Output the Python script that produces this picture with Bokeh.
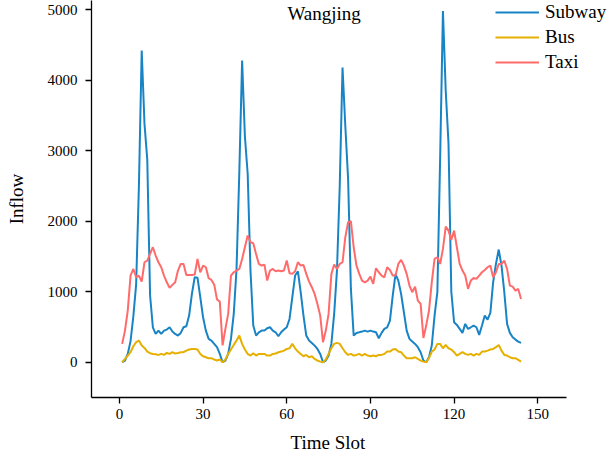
from bokeh.plotting import figure
from bokeh.models import Range1d, Legend, LegendItem, Label, FixedTicker, Title
from bokeh.embed import file_html
from bokeh.resources import INLINE

time_slot = list(range(1, 145))

subway = [0, 24, 118, 300, 650, 1100, 2500, 4420, 3380, 2870, 950, 496, 402, 449, 402, 449, 463, 496,
          435, 402, 378, 416, 496, 510, 662, 969, 1205, 1200, 922, 638, 449, 331, 307, 260, 213, 118,
          0, 24, 118, 331, 685, 1323, 2700, 4280, 3200, 2670, 1300, 520, 378, 425, 449, 449, 482, 496,
          449, 425, 369, 425, 463, 496, 614, 922, 1229, 1290, 993, 662, 378, 307, 274, 236, 189, 118,
          0, 24, 95, 260, 685, 1300, 2500, 4180, 3350, 2600, 1040, 378, 416, 425, 435, 449, 435, 449,
          435, 425, 340, 416, 473, 496, 591, 945, 1250, 1158, 969, 709, 449, 331, 293, 260, 213, 142,
          24, 0, 71, 236, 662, 993, 2900, 4980, 3850, 3100, 1000, 567, 529, 473, 416, 544, 473, 496,
          520, 496, 388, 520, 662, 605, 700, 1134, 1394, 1598, 1371, 993, 544, 416, 355, 321, 293, 274]

bus = [0, 47, 95, 142, 227, 284, 307, 236, 203, 151, 128, 118, 113, 104, 118, 104, 132, 118,
       142, 123, 132, 142, 142, 165, 180, 189, 189, 180, 118, 85, 71, 57, 57, 38, 24, 38,
       0, 38, 118, 180, 246, 307, 378, 260, 180, 118, 95, 128, 95, 118, 118, 118, 95, 95,
       118, 123, 142, 151, 165, 189, 198, 260, 198, 151, 118, 85, 104, 71, 85, 47, 24, 9,
       0, 38, 118, 198, 260, 274, 260, 198, 142, 104, 118, 95, 104, 118, 95, 118, 95, 85,
       95, 85, 104, 104, 118, 151, 151, 180, 189, 151, 142, 95, 57, 57, 57, 71, 47, 24,
       9, 0, 57, 151, 180, 260, 260, 198, 246, 198, 180, 142, 95, 118, 142, 118, 104, 118,
       95, 118, 104, 151, 151, 165, 180, 189, 213, 246, 165, 104, 95, 71, 57, 57, 33, 9]

taxi = [260, 449, 733, 1229, 1323, 1205, 1229, 1144, 1418, 1442, 1536, 1631, 1513, 1418, 1347, 1229, 1134, 1054,
        1097, 1134, 1300, 1394, 1394, 1238, 1238, 1238, 1243, 1465, 1276, 1371, 1347, 1191, 1168, 1100, 890, 860,
        240, 473, 685, 1229, 1276, 1300, 1323, 1465, 1631, 1796, 1702, 1688, 1536, 1394, 1371, 1385, 1158, 1300,
        1323, 1290, 1300, 1290, 1300, 1442, 1262, 1253, 1290, 1418, 1371, 1380, 1253, 1144, 1064, 969, 827, 662,
        284, 449, 685, 1250, 1385, 1323, 1394, 1418, 1773, 1985, 2000, 1631, 1371, 1253, 1158, 1134, 1158, 1215,
        1111, 1333, 1276, 1229, 1205, 1347, 1309, 1229, 1229, 1394, 1451, 1371, 1253, 1087, 993, 1073, 875, 827,
        345, 520, 733, 1134, 1465, 1489, 1394, 1607, 1924, 1867, 1735, 1867, 1631, 1394, 1300, 1229, 1040, 1158,
        1196, 1182, 1229, 1276, 1309, 1347, 1371, 1205, 1276, 1394, 1394, 1442, 1323, 1087, 1073, 1016, 1040, 898]

x_ticks = [0, 30, 60, 90, 120, 150]
y_ticks = [0, 1000, 2000, 3000, 4000, 5000]

series_names = ["Subway", "Bus", "Taxi"]
series_colors = ["#1984c5", "#e6b000", "#ff6b6b"]

FONT = "Liberation Serif"

p = figure(width=607, height=464, output_backend="svg", toolbar_location=None,
           x_range=Range1d(-10, 175), y_range=Range1d(-500, 5130),
           min_border_left=91, min_border_right=0, min_border_top=0, min_border_bottom=67)
p.outline_line_color = None
p.xgrid.grid_line_color = None
p.ygrid.grid_line_color = None
p.background_fill_color = "white"
p.border_fill_color = "white"

renderers = []
for name, ys, col in zip(series_names, [subway, bus, taxi], series_colors):
    r = p.line(time_slot, ys, line_color=col, line_width=2)
    renderers.append((name, r))

for ax in (p.xaxis[0], p.yaxis[0]):
    ax.axis_line_color = "black"
    ax.axis_line_width = 1.3
    ax.major_tick_line_color = "black"
    ax.major_tick_line_width = 1.3
    ax.major_tick_out = 6
    ax.major_tick_in = 0
    ax.minor_tick_line_color = None
    ax.major_label_text_font = FONT
    ax.major_label_text_font_size = "15px"
    ax.major_label_text_color = "black"
    ax.axis_label_text_font = FONT
    ax.axis_label_text_font_size = "19px"
    ax.axis_label_text_font_style = "normal"
    ax.axis_label_text_color = "black"

p.xaxis[0].ticker = FixedTicker(ticks=x_ticks)
p.xaxis[0].bounds = (-10, 160.3)
p.yaxis[0].ticker = FixedTicker(ticks=y_ticks)
p.yaxis[0].axis_label = "Inflow"
p.xaxis[0].major_label_standoff = 5
p.yaxis[0].major_label_standoff = 8
p.yaxis[0].axis_label_standoff = 18

xlabel = Title(text="Time Slot", align="left", offset=199, standoff=17,
               text_font=FONT, text_font_size="19px", text_font_style="normal",
               text_color="black")
p.add_layout(xlabel, "below")

legend = Legend(items=[LegendItem(label=n, renderers=[r]) for n, r in renderers],
                location=(404, 323), orientation="vertical",
                label_text_font=FONT, label_text_font_size="19px", label_text_color="black",
                glyph_width=44, glyph_height=24, label_height=24, label_standoff=6,
                spacing=1, padding=0, margin=0,
                border_line_color=None, background_fill_alpha=0)
p.add_layout(legend, "center")

title = Label(x=73.4, y=4946, text="Wangjing", text_font=FONT, text_font_size="19px",
              text_align="center", text_baseline="middle", text_color="black")
p.add_layout(title)

open("out.html", "w").write(file_html(p, INLINE))
